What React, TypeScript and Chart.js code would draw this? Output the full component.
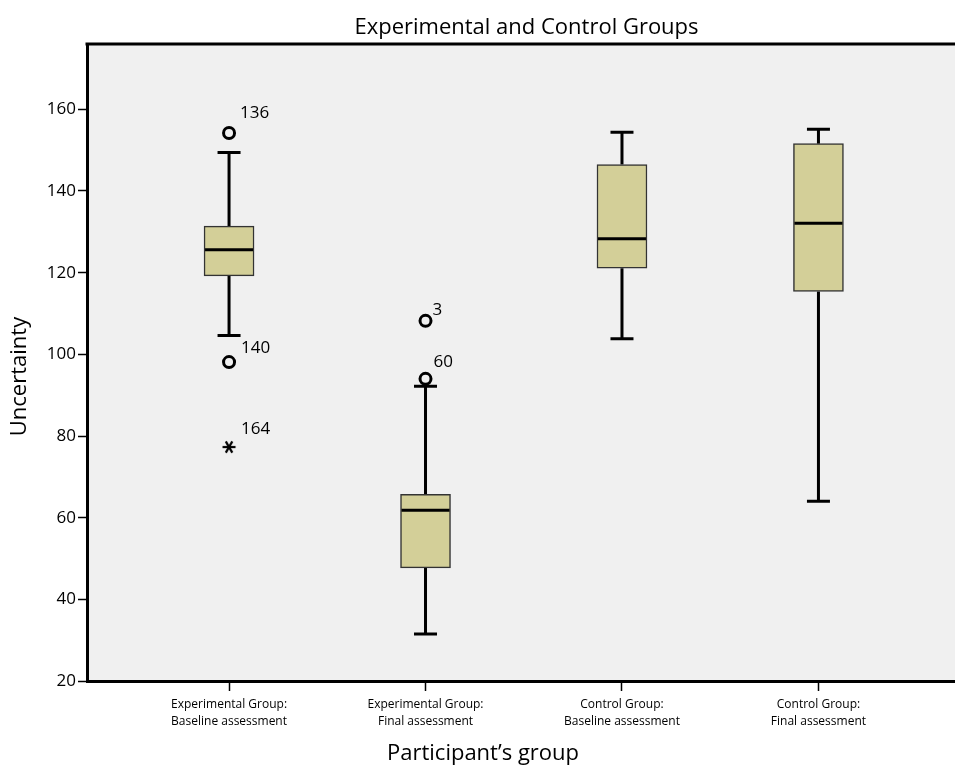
import { useEffect, useRef } from "react";
import { Chart, registerables } from "chart.js";

Chart.register(...registerables);

const TITLE = "Experimental and Control Groups";
const X_TITLE = "Participant\u2019s group";
const Y_TITLE = "Uncertainty";

const CATEGORIES: string[][] = [
  ["Experimental Group:", "Baseline assessment"],
  ["Experimental Group:", "Final assessment"],
  ["Control Group:", "Baseline assessment"],
  ["Control Group:", "Final assessment"],
];
const GROUP_POS = [0, 1, 2, 3];
const Y_TICKS = [20, 40, 60, 80, 100, 120, 140, 160];
const Y_MIN = 20;
const Y_MAX = 176;

const BOX_MIN = [104.6, 31.5, 103.8, 64.0];
const BOX_Q1 = [119.2, 47.7, 121.1, 115.4];
const BOX_MEDIAN = [125.6, 61.8, 128.3, 132.1];
const BOX_Q3 = [131.4, 65.7, 146.5, 151.6];
const BOX_MAX = [149.4, 92.2, 154.4, 155.1];

const OUTLIER_GROUP = [0, 0, 1, 1];
const OUTLIER_VALUE = [154.2, 98.1, 108.2, 94.0];
const OUTLIER_LABEL = ["136", "140", "3", "60"];

const EXTREME_GROUP = [0];
const EXTREME_VALUE = [77.3];
const EXTREME_LABEL = ["164"];

// label placement (pixels relative to the mark), styling only
const OUTLIER_LABEL_OFFSET = [
  [11, -20],
  [12, -14],
  [7, -11],
  [8, -17],
];
const EXTREME_LABEL_OFFSET = [[12, -18]];

const FONT = "'Open Sans', 'DejaVu Sans', sans-serif";
const BOX_FILL = "#d3cf98";
const PLOT_BG = "#f0f0f0";

function makeAsterisk(): HTMLCanvasElement {
  const c = document.createElement("canvas");
  c.width = 16;
  c.height = 16;
  const g = c.getContext("2d")!;
  g.strokeStyle = "#000";
  g.lineWidth = 2.2;
  g.lineCap = "butt";
  const cx = 8, cy = 8, r = 6.5;
  for (let k = 0; k < 3; k++) {
    const a = (Math.PI / 3) * k;
    g.beginPath();
    g.moveTo(cx - r * Math.cos(a), cy - r * Math.sin(a));
    g.lineTo(cx + r * Math.cos(a), cy + r * Math.sin(a));
    g.stroke();
  }
  return c;
}

const framePlugin = {
  id: "frame",
  beforeDraw(chart: any) {
    const { ctx, chartArea: a } = chart;
    ctx.save();
    ctx.fillStyle = PLOT_BG;
    ctx.fillRect(a.left, a.top, a.right - a.left, a.bottom - a.top);
    ctx.restore();
  },
  afterDraw(chart: any) {
    const { ctx, chartArea: a } = chart;
    ctx.save();
    ctx.strokeStyle = "#000";
    ctx.lineWidth = 3;
    ctx.beginPath();
    ctx.moveTo(a.left - 1.5, a.top);
    ctx.lineTo(a.right, a.top);
    ctx.stroke();
    ctx.fillStyle = "#000";
    ctx.font = `22px ${FONT}`;
    ctx.textAlign = "center";
    ctx.textBaseline = "middle";
    ctx.fillText(X_TITLE, a.left + 396, chart.height - 15);
    ctx.translate(20, (a.top + a.bottom) / 2 + 14);
    ctx.rotate(-Math.PI / 2);
    ctx.fillText(Y_TITLE, 0, 0);
    ctx.restore();
  },
};

const whiskerPlugin = {
  id: "whiskers",
  beforeDatasetsDraw(chart: any) {
    const { ctx } = chart;
    const xs = chart.scales.x;
    const ys = chart.scales.y;
    ctx.save();
    ctx.strokeStyle = "#000";
    ctx.lineWidth = 3;
    const cap = 23;
    GROUP_POS.forEach((g, i) => {
      const x = xs.getPixelForValue(g);
      const yMin = ys.getPixelForValue(BOX_MIN[i]);
      const yQ1 = ys.getPixelForValue(BOX_Q1[i]);
      const yQ3 = ys.getPixelForValue(BOX_Q3[i]);
      const yMax = ys.getPixelForValue(BOX_MAX[i]);
      ctx.beginPath();
      ctx.moveTo(x, yMax);
      ctx.lineTo(x, yQ3);
      ctx.moveTo(x, yQ1);
      ctx.lineTo(x, yMin);
      ctx.moveTo(x - cap / 2, yMax);
      ctx.lineTo(x + cap / 2, yMax);
      ctx.moveTo(x - cap / 2, yMin);
      ctx.lineTo(x + cap / 2, yMin);
      ctx.stroke();
    });
    ctx.restore();
  },
  afterDatasetsDraw(chart: any) {
    const { ctx } = chart;
    const xs = chart.scales.x;
    const ys = chart.scales.y;
    const meta = chart.getDatasetMeta(0);
    ctx.save();
    ctx.strokeStyle = "#000";
    ctx.lineWidth = 3;
    GROUP_POS.forEach((g, i) => {
      const bar = meta.data[i];
      const half = bar.width / 2 - 1;
      const x = xs.getPixelForValue(g);
      const y = ys.getPixelForValue(BOX_MEDIAN[i]);
      ctx.beginPath();
      ctx.moveTo(x - half, y);
      ctx.lineTo(x + half, y);
      ctx.stroke();
    });
    ctx.fillStyle = "#000";
    ctx.font = `17px ${FONT}`;
    ctx.textAlign = "left";
    ctx.textBaseline = "middle";
    OUTLIER_LABEL.forEach((lab, i) => {
      const x = xs.getPixelForValue(OUTLIER_GROUP[i]);
      const y = ys.getPixelForValue(OUTLIER_VALUE[i]);
      const [dx, dy] = OUTLIER_LABEL_OFFSET[i];
      ctx.fillText(lab, x + dx, y + dy);
    });
    EXTREME_LABEL.forEach((lab, i) => {
      const x = xs.getPixelForValue(EXTREME_GROUP[i]);
      const y = ys.getPixelForValue(EXTREME_VALUE[i]);
      const [dx, dy] = EXTREME_LABEL_OFFSET[i];
      ctx.fillText(lab, x + dx, y + dy);
    });
    ctx.restore();
  },
};

export default function App() {
  const ref = useRef<HTMLCanvasElement | null>(null);
  useEffect(() => {
    if (!ref.current) return;
    const asterisk = makeAsterisk();
    const chart = new Chart(ref.current, {
      type: "bar",
      data: {
        datasets: [
          {
            type: "bar",
            data: GROUP_POS.map((g, i) => ({ x: g, y: [BOX_Q1[i], BOX_Q3[i]] })) as any,
            backgroundColor: BOX_FILL,
            borderColor: "#333333",
            borderWidth: 1.5,
            borderSkipped: false,
            barThickness: 50,
          } as any,
          {
            type: "scatter",
            data: OUTLIER_VALUE.map((v, i) => ({ x: OUTLIER_GROUP[i], y: v })),
            pointStyle: "circle",
            pointRadius: 5.5,
            pointBorderWidth: 3,
            pointBorderColor: "#000",
            pointBackgroundColor: "rgba(0,0,0,0)",
            showLine: false,
          } as any,
          {
            type: "scatter",
            data: EXTREME_VALUE.map((v, i) => ({ x: EXTREME_GROUP[i], y: v })),
            pointStyle: asterisk,
            pointRadius: 8,
            showLine: false,
          } as any,
        ],
      },
      options: {
        animation: false,
        responsive: false,
        devicePixelRatio: 1,
        layout: { padding: { left: 0, right: 0, top: 0, bottom: 0 } },
        plugins: {
          legend: { display: false },
          tooltip: { enabled: false },
          title: {
            display: true,
            text: TITLE,
            fullSize: false,
            color: "#000",
            font: { family: FONT, size: 22, weight: "normal" },
            padding: { top: 15, bottom: 2.6 },
          },
        },
        scales: {
          x: {
            type: "linear",
            offset: false,
            min: -0.723,
            max: 3.751,
            afterBuildTicks: (s: any) => {
              s.ticks = GROUP_POS.map((v) => ({ value: v }));
            },
            afterFit: (s: any) => {
              s.height = 88;
            },
            ticks: {
              autoSkip: false,
              maxRotation: 0,
              color: "#000",
              padding: 5,
              font: { family: FONT, size: 12, lineHeight: 1.4 },
              callback: (v: any) => CATEGORIES[Math.round(Number(v))] ?? "",
            },
            grid: {
              offset: false,
              drawOnChartArea: false,
              drawTicks: true,
              tickLength: 10,
              tickColor: "#000",
              tickWidth: 1.5,
            },
            border: { display: true, color: "#000", width: 3 },
          },
          y: {
            type: "linear",
            min: Y_MIN,
            max: Y_MAX,
            afterBuildTicks: (s: any) => {
              s.ticks = Y_TICKS.map((v) => ({ value: v }));
            },
            afterFit: (s: any) => {
              s.width = 87;
            },
            ticks: {
              color: "#000",
              padding: 2,
              font: { family: FONT, size: 17 },
            },
            grid: {
              drawOnChartArea: false,
              drawTicks: true,
              tickLength: 9,
              tickColor: "#000",
              tickWidth: 1.5,
            },
            border: { display: true, color: "#000", width: 3 },
          },
        },
      },
      plugins: [framePlugin, whiskerPlugin],
    } as any);
    return () => chart.destroy();
  }, []);
  return (
    <div
      style={{
        position: "fixed",
        left: 0,
        top: 0,
        width: 955,
        height: 769,
        overflow: "hidden",
        background: "#fff",
      }}
    >
      <canvas ref={ref} width={975} height={769} style={{ display: "block" }} />
    </div>
  );
}
